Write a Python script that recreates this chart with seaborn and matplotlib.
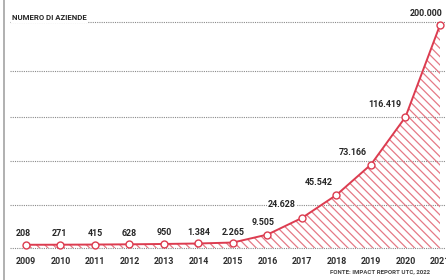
import numpy as np
import pandas as pd
import matplotlib.pyplot as plt
import seaborn as sns
from matplotlib.lines import Line2D

# data
years = [2009, 2010, 2011, 2012, 2013, 2014, 2015, 2016, 2017, 2018, 2019, 2020, 2021]
aziende = [208, 271, 415, 628, 950, 1384, 2265, 9505, 24628, 45542, 73166, 116419, 200000]
title = "NUMERO DI AZIENDE"
source = "FONTE: IMPACT REPORT UTC, 2022"

# label offsets in pixels (dx, dy) relative to each point
label_dx = [-3, -1, 0, 0, 0, 0, 0, -4, -20, -18, -18, -21, -14]
label_dy = [11, 11, 11, 11, 11, 11, 10, 12, 13, 12, 12, 12, 12]

RED = '#dc3c50'
HATCH = '#e57a86'
TXT = '#262626'

sns.set_theme(style='white')
plt.rcParams['font.family'] = ['Roboto', 'DejaVu Sans']
plt.rcParams['hatch.linewidth'] = 0.9
plt.rcParams['hatch.color'] = HATCH

df = pd.DataFrame({'anno': years, 'aziende': aziende})

fig = plt.figure(figsize=(4.46, 2.80), dpi=100)
ax = fig.add_axes([0.0224, 0.1014, 0.9776, 0.8407])

# dotted guide lines (decoration, not aligned to values)
grid_vals = [-2700, 36400, 76400, 116400, 158200, 202700]
for g in grid_vals:
    ax.axhline(g, color='#8a8a8a', lw=0.8, ls=(0, (1, 1)), zorder=1)

ax.fill_between(df['anno'], df['aziende'], -2700, facecolor='none',
                edgecolor=HATCH, hatch='\\\\\\\\', linewidth=0, zorder=2)

sns.lineplot(data=df, x='anno', y='aziende', ax=ax, color=RED, lw=1.4,
             marker='o', markersize=5, markerfacecolor='white',
             markeredgecolor=RED, markeredgewidth=1.0, zorder=4)
for ln in ax.lines:
    ln.set_clip_on(False)

for x, y, dx, dy in zip(years, aziende, label_dx, label_dy):
    s = f"{y:,}".replace(',', '.')
    ax.annotate(s, (x, y), xytext=(dx, dy), textcoords='offset pixels',
                ha='center', va='center', fontsize=6.4, fontweight='bold',
                color=TXT, zorder=6,
                bbox=dict(facecolor='white', edgecolor='none', pad=0.6))

ax.set_xlim(2008.536, 2021.174)
ax.set_ylim(-6000, 208000)
ax.set_xticks(years)
ax.set_xticklabels([str(y) for y in years], fontsize=6.4, fontweight='bold',
                   color='#2e2e2e')
ax.tick_params(axis='x', length=0, pad=4)
ax.set_yticks([])
ax.set_xlabel('')
ax.set_ylabel('')
for sp in ax.spines.values():
    sp.set_visible(False)

fig.text(12 / 446, 1 - 18 / 280, title, fontsize=5.6, fontweight='bold',
         color=TXT, ha='left', va='center', zorder=10,
         bbox=dict(facecolor='white', edgecolor='none', pad=0.8))
fig.text(330 / 446, 1 - 272 / 280, source, fontsize=4.4, fontweight='bold',
         color='#444444', ha='left', va='center')

fig.add_artist(Line2D([4 / 446, 4 / 446], [0, 1], color='#b0b0b0', lw=1.4,
                      transform=fig.transFigure))

fig.savefig('out.png', dpi=100)
plt.close(fig)
